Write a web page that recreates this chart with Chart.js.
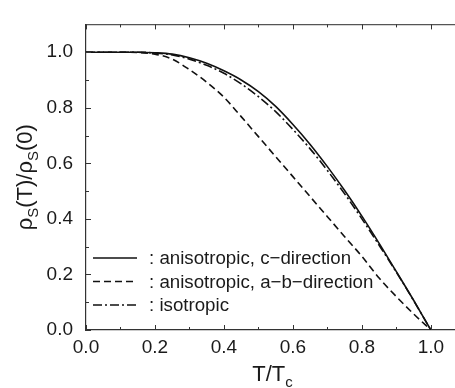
<!DOCTYPE html>
<html>
<head>
<meta charset="utf-8">
<script src="https://cdn.jsdelivr.net/npm/chart.js@4.4.1/dist/chart.umd.min.js"></script>
<style>
  html, body { margin: 0; padding: 0; background: #ffffff; overflow: hidden; }
  #wrap { width: 455px; height: 388px; }
</style>
</head>
<body>
<div id="wrap"><canvas id="c" width="455" height="388"></canvas></div>
<script>
// ---- data ----
const temperatureRatio = [0, 0.1, 0.15, 0.2, 0.25, 0.3, 0.35, 0.4, 0.45, 0.5, 0.55, 0.6, 0.65, 0.7, 0.75, 0.8, 0.85, 0.9, 0.95, 1.0];
const cDirection  = [1, 1, 1, 0.998, 0.993, 0.98, 0.96, 0.933, 0.9, 0.858, 0.805, 0.74, 0.668, 0.588, 0.502, 0.41, 0.312, 0.21, 0.107, 0];
const abDirection = [1, 1, 0.999, 0.993, 0.975, 0.937, 0.892, 0.838, 0.768, 0.696, 0.624, 0.552, 0.48, 0.408, 0.336, 0.265, 0.187, 0.12, 0.058, 0];
const isotropic   = [1, 1, 1, 0.997, 0.99, 0.975, 0.953, 0.924, 0.886, 0.84, 0.786, 0.722, 0.652, 0.574, 0.49, 0.4, 0.305, 0.208, 0.106, 0];
const seriesLabels = ['anisotropic, c\u2212direction', 'anisotropic, a\u2212b\u2212direction', 'isotropic'];
const xTickValues = [0, 0.2, 0.4, 0.6, 0.8, 1.0];
const xTickLabels = ['0.0', '0.2', '0.4', '0.6', '0.8', '1.0'];
const yTickValues = [0, 0.2, 0.4, 0.6, 0.8, 1.0];
const yTickLabels = ['0.0', '0.2', '0.4', '0.6', '0.8', '1.0'];
const minorTickValues = [0.1, 0.3, 0.5, 0.7, 0.9];

const FONT = "'Liberation Sans', Arial, Helvetica, sans-serif";
const INK = '#1a1a1a';

function pts(ys) { return temperatureRatio.map((t, i) => ({ x: t, y: ys[i] })); }

const dashes = [[], [7, 4], [9, 3, 2, 3]];
const seriesValues = [cDirection, abDirection, isotropic];

const datasets = seriesValues.map((vals, i) => ({
  label: seriesLabels[i],
  data: pts(vals),
  borderColor: '#111',
  borderWidth: 1.6,
  borderDash: dashes[i],
  pointRadius: 0,
  fill: false,
  cubicInterpolationMode: 'monotone'
}));

// inward tick marks
const tickPlugin = {
  id: 'inwardTicks',
  afterDatasetsDraw(chart) {
    const ctx = chart.ctx, a = chart.chartArea;
    const sx = chart.scales.x, sy = chart.scales.y;
    ctx.save();
    ctx.strokeStyle = '#333';
    ctx.lineWidth = 1;
    const major = 5, minor = 3;
    const drawX = (v, len) => {
      const px = Math.round(sx.getPixelForValue(v)) + 0.5;
      ctx.beginPath(); ctx.moveTo(px, a.bottom); ctx.lineTo(px, a.bottom - len); ctx.stroke();
      ctx.beginPath(); ctx.moveTo(px, a.top); ctx.lineTo(px, a.top + len); ctx.stroke();
    };
    const drawY = (v, len) => {
      const py = Math.round(sy.getPixelForValue(v)) + 0.5;
      ctx.beginPath(); ctx.moveTo(a.left, py); ctx.lineTo(a.left + len, py); ctx.stroke();
    };
    xTickValues.forEach(v => drawX(v, major));
    minorTickValues.forEach(v => drawX(v, minor));
    yTickValues.forEach(v => drawY(v, major));
    minorTickValues.forEach(v => drawY(v, minor));
    ctx.restore();
  }
};

function measureRich(ctx, segs, size) {
  let w = 0;
  segs.forEach(s => {
    ctx.font = (s.sub ? size * 0.68 : size) + 'px ' + FONT;
    w += ctx.measureText(s.t).width;
  });
  return w;
}
function paintRich(ctx, segs, size, x, y) {
  let cx = x;
  segs.forEach(s => {
    ctx.font = (s.sub ? size * 0.68 : size) + 'px ' + FONT;
    ctx.fillText(s.t, cx, s.sub ? y + size * 0.25 : y);
    cx += ctx.measureText(s.t).width;
  });
}

const titlePlugin = {
  id: 'axisTitles',
  afterDraw(chart) {
    const ctx = chart.ctx, a = chart.chartArea;
    ctx.save();
    ctx.fillStyle = INK;
    ctx.textBaseline = 'alphabetic';
    ctx.textAlign = 'left';
    const size = 22;
    const xs = [{ t: 'T/T' }, { t: 'c', sub: true }];
    const wx = measureRich(ctx, xs, size);
    paintRich(ctx, xs, size, (a.left + a.right) / 2 - wx / 2 + 2, 381);
    const ys = [{ t: '\u03C1' }, { t: 'S', sub: true }, { t: '(T)/' }, { t: '\u03C1' }, { t: 'S', sub: true }, { t: '(0)' }];
    const wy = measureRich(ctx, ys, size);
    ctx.translate(32, (a.top + a.bottom) / 2);
    ctx.rotate(-Math.PI / 2);
    paintRich(ctx, ys, size, -wy / 2, 0);
    ctx.restore();
  }
};

const legendPlugin = {
  id: 'innerLegend',
  afterDraw(chart) {
    const ctx = chart.ctx, a = chart.chartArea;
    ctx.save();
    ctx.font = '18.7px ' + FONT;
    ctx.fillStyle = INK;
    ctx.textBaseline = 'middle';
    chart.data.datasets.forEach((ds, i) => {
      const y = 258 + i * 23.5;
      ctx.strokeStyle = '#111';
      ctx.lineWidth = 1.6;
      ctx.setLineDash(ds.borderDash);
      ctx.beginPath(); ctx.moveTo(a.left + 7, y); ctx.lineTo(a.left + 51, y); ctx.stroke();
      ctx.setLineDash([]);
      ctx.fillText(': ' + ds.label, a.left + 63, y + 1);
    });
    ctx.restore();
  }
};

new Chart(document.getElementById('c'), {
  type: 'line',
  data: { datasets },
  options: {
    responsive: false,
    animation: false,
    devicePixelRatio: 1,
    layout: { padding: { top: 11, right: 0, left: 0, bottom: 0 } },
    plugins: { legend: { display: false }, tooltip: { enabled: false } },
    scales: {
      x: {
        type: 'linear', position: 'bottom', min: 0, max: 1.07,
        afterBuildTicks: s => { s.ticks = xTickValues.map(v => ({ value: v })); },
        afterFit: s => { s.height = 58; },
        ticks: {
          callback: (v) => xTickLabels[xTickValues.indexOf(v)],
          color: INK, font: { family: FONT, size: 19 }, padding: 6, maxRotation: 0
        },
        grid: { display: false, drawTicks: false },
        border: { display: true, color: '#333', width: 1.2 }
      },
      x2: {
        type: 'linear', position: 'top', min: 0, max: 1.07,
        afterFit: s => { s.height = 0; },
        ticks: { display: false },
        grid: { display: false, drawTicks: false },
        border: { display: true, color: '#555', width: 1.2 }
      },
      y: {
        type: 'linear', min: 0, max: 1.1,
        afterBuildTicks: s => { s.ticks = yTickValues.map(v => ({ value: v })); },
        afterFit: s => { s.width = 86; },
        ticks: {
          callback: (v) => yTickLabels[yTickValues.indexOf(v)],
          color: INK, font: { family: FONT, size: 19 }, padding: 13
        },
        grid: { display: false, drawTicks: false },
        border: { display: true, color: '#333', width: 1.2 }
      }
    }
  },
  plugins: [tickPlugin, titlePlugin, legendPlugin]
});
</script>
</body>
</html>
